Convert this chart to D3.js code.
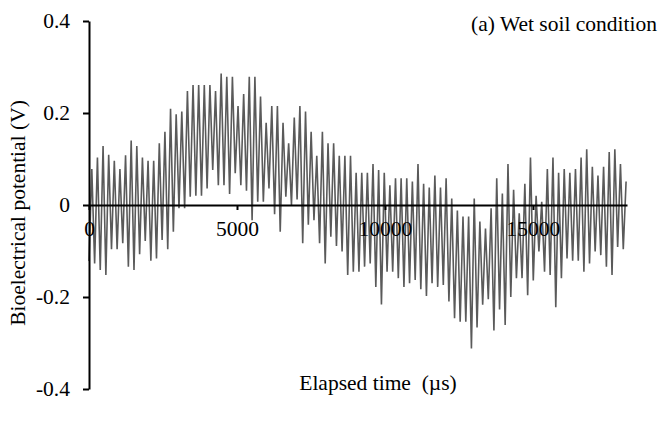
<!DOCTYPE html>
<html>
<head>
<meta charset="utf-8">
<script src="https://cdn.jsdelivr.net/npm/d3@7"></script>
<style>
  html, body { margin: 0; padding: 0; background: #fff; }
  svg { display: block; }
  text { font-family: "Liberation Serif", "Times New Roman", serif; fill: #000; white-space: pre; }
</style>
</head>
<body>
<svg id="chart" width="662" height="423"></svg>
<script>
// ---- data ----
const sampleInterval = 95; // µs between samples
const potential = [
  -0.122, 0.078, -0.127, 0.103, -0.141, 0.128, -0.152, 0.109, -0.096, 0.096,
  -0.096, 0.078, -0.083, 0.108, -0.134, 0.140, -0.141, 0.128, -0.107, 0.103,
  -0.078, 0.096, -0.121, 0.096, -0.116, 0.134, -0.076, 0.159, -0.096, 0.209,
  -0.058, 0.197, -0.007, 0.203, -0.007, 0.248, 0.018, 0.261,
  0.020, 0.261, 0.020, 0.261, 0.036, 0.261, 0.076, 0.248, 0.043, 0.286,
  0.043, 0.279, 0.024, 0.279, 0.069, 0.215, 0.043, 0.241, 0.031, 0.279,
  -0.033, 0.279, 0.007, 0.236, 0.007, 0.179, 0.036, 0.215, -0.020, 0.215,
  -0.058, 0.179, 0.018, 0.134, 0.000, 0.190, 0.012,
  0.215, -0.083, 0.203, -0.043, 0.159, -0.033, 0.107, -0.083, 0.159, -0.127,
  0.134, -0.069, 0.134, -0.089, 0.107, -0.101, 0.107, -0.152, 0.107, -0.145,
  0.070, -0.145, 0.070, -0.134, 0.070, -0.127, 0.089, -0.178, 0.076, -0.216,
  0.070, -0.145, 0.043, -0.145, 0.058, -0.159, 0.058, -0.178, 0.058, -0.170,
  0.051, -0.163, 0.089, -0.183, 0.046, -0.198, 0.038, -0.170, 0.064, -0.178,
  0.038, -0.174, 0.058, -0.210, 0.014, -0.246, -0.012, -0.254, -0.025, -0.254,
  -0.025, -0.312, 0.014, -0.266, -0.036, -0.217, -0.051, -0.205, -0.007, -0.273,
  0.058, -0.227, 0.025, -0.261, 0.089, -0.200, 0.033, -0.159,
  -0.018, -0.159, 0.046, -0.196, 0.103, -0.164, 0.020, -0.101, 0.007, -0.145,
  0.078, -0.152, 0.103, -0.222, 0.070, -0.159, 0.078, -0.116, 0.070, -0.121,
  0.078, -0.121, 0.103, -0.145, 0.121, -0.127, 0.083, -0.101, 0.064, -0.109,
  0.083, -0.134, 0.115, -0.152, 0.121, -0.091, 0.089, -0.096, 0.051
];
const xTicks = [0, 5000, 10000, 15000];
const yTicks = [-0.4, -0.2, 0, 0.2, 0.4];
const xMax = 18176;
const yDomain = [-0.4, 0.4];
const titleText = "(a) Wet soil condition";
const xLabel = "Elapsed time  (\u00b5s)";
const yLabel = "Bioelectrical potential (V)";

// ---- drawing ----
const svg = d3.select("#chart");
const plotLeft = 89, plotRight = 627, plotTop = 21, plotBottom = 389;
const fontSize = 21.5;

const x = d3.scaleLinear().domain([0, xMax]).range([plotLeft, plotRight]);
const y = d3.scaleLinear().domain(yDomain).range([plotBottom, plotTop]);

const data = potential.map((v, i) => ({ t: i * sampleInterval, v }));

// signal
svg.append("path")
  .datum(data)
  .attr("fill", "none")
  .attr("stroke", "#5a5a5a")
  .attr("stroke-width", 1.6)
  .attr("stroke-linejoin", "miter")
  .attr("d", d3.line().x(d => x(d.t)).y(d => y(d.v)));

// y axis
const yAxis = svg.append("g")
  .attr("transform", `translate(${plotLeft},0)`)
  .call(d3.axisLeft(y).tickValues(yTicks).tickSize(6).tickSizeOuter(0).tickPadding(13)
    .tickFormat(d => d === 0 ? "0" : d3.format(".1f")(d).replace("\u2212", "-")));
yAxis.select(".domain").attr("stroke", "#000").attr("stroke-width", 2);
yAxis.selectAll(".tick line").attr("stroke", "#000").attr("stroke-width", 2);
yAxis.selectAll(".tick text").style("font-family", '"Liberation Serif", serif').style("font-size", fontSize + "px");

// x axis (crossing at zero)
const xAxis = svg.append("g")
  .attr("transform", `translate(0,${y(0)})`)
  .call(d3.axisBottom(x).tickValues(xTicks).tickSize(5).tickSizeOuter(0).tickPadding(11)
    .tickFormat(d3.format("d")));
xAxis.select(".domain").attr("stroke", "#000").attr("stroke-width", 2);
xAxis.selectAll(".tick line").attr("stroke", "#000").attr("stroke-width", 2);
xAxis.selectAll(".tick text").style("font-family", '"Liberation Serif", serif').style("font-size", fontSize + "px");

// title
svg.append("text")
  .attr("x", 657).attr("y", 31)
  .attr("text-anchor", "end")
  .style("font-size", fontSize + "px")
  .text(titleText);

// x label
svg.append("text")
  .attr("x", 378).attr("y", 390)
  .attr("text-anchor", "middle")
  .style("font-size", fontSize + "px")
  .text(xLabel);

// y label
svg.append("text")
  .attr("transform", `translate(25,${(plotTop + plotBottom) / 2 + 8}) rotate(-90)`)
  .attr("text-anchor", "middle")
  .style("font-size", fontSize + "px")
  .text(yLabel);
</script>
</body>
</html>
